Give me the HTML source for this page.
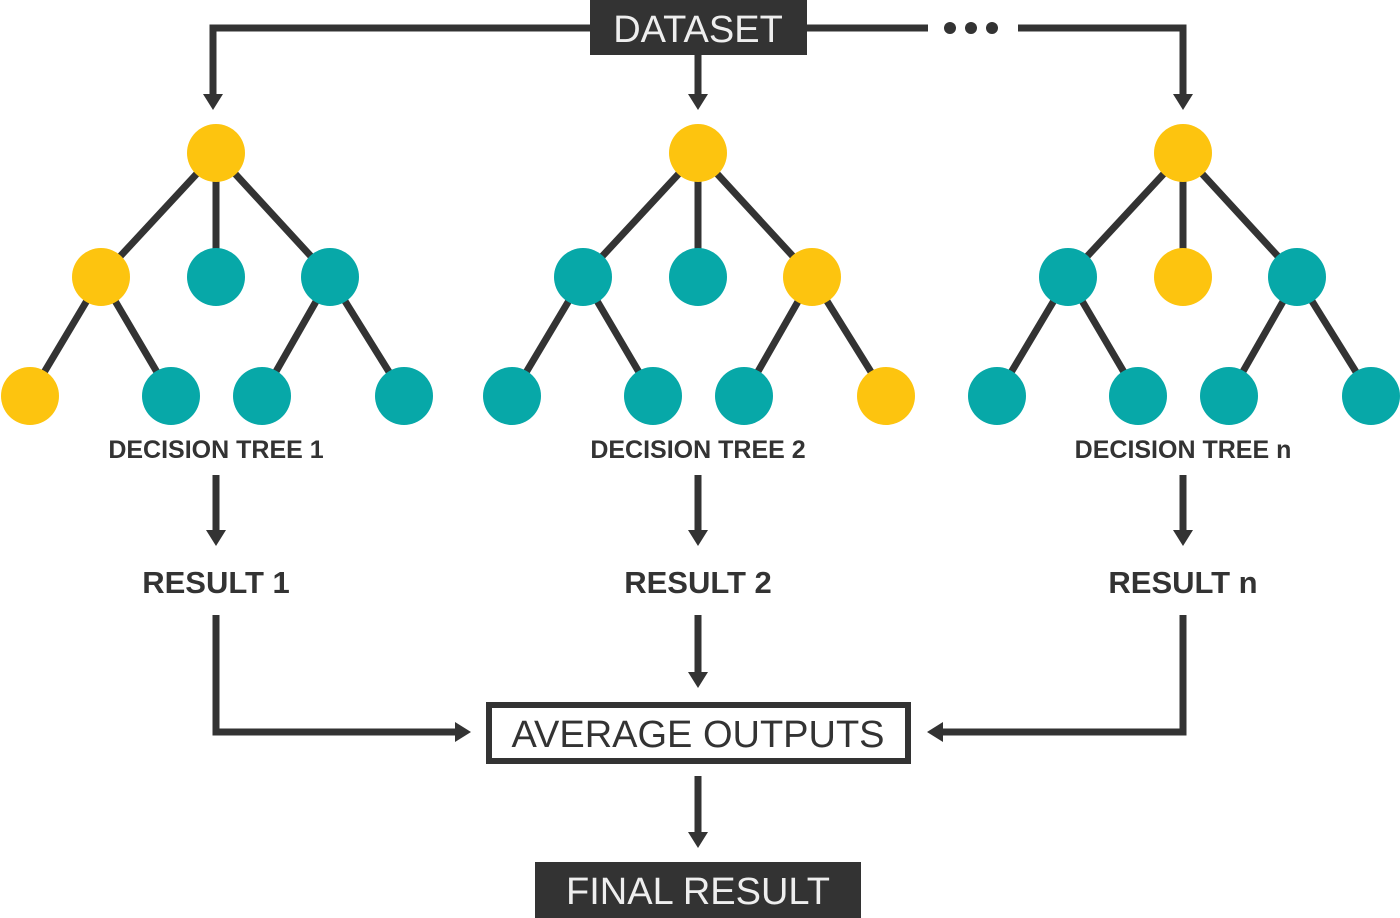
<!DOCTYPE html>
<html><head><style>body{margin:0;background:#fff}svg{display:block}text{font-family:"Liberation Sans",sans-serif;font-weight:bold;fill:#333}</style></head><body>
<svg width="1400" height="918" viewBox="0 0 1400 918" xmlns="http://www.w3.org/2000/svg">
<g stroke="#333" stroke-width="7" fill="none">
<polyline points="590,28 213,28 213,96"/>
<line x1="698" y1="55" x2="698" y2="96"/>
<polygon points="688,94 708,94 698,110" fill="#333" stroke="none"/>
<polygon points="203,94 223,94 213,110" fill="#333" stroke="none"/>
<line x1="807" y1="28" x2="928" y2="28"/>
<polyline points="1018,28 1183,28 1183,96"/>
<polygon points="1173,94 1193,94 1183,110" fill="#333" stroke="none"/>
<line x1="216" y1="475" x2="216" y2="532"/><polygon points="206,530 226,530 216,546" fill="#333" stroke="none"/>
<line x1="698" y1="475" x2="698" y2="532"/><polygon points="688,530 708,530 698,546" fill="#333" stroke="none"/>
<line x1="1183" y1="475" x2="1183" y2="532"/><polygon points="1173,530 1193,530 1183,546" fill="#333" stroke="none"/>
<polyline points="216,615 216,732 456,732"/><polygon points="455,722 455,742 471,732" fill="#333" stroke="none"/>
<line x1="698" y1="615" x2="698" y2="674"/><polygon points="688,672 708,672 698,688" fill="#333" stroke="none"/>
<polyline points="1183,615 1183,732 942,732"/><polygon points="943,722 943,742 927,732" fill="#333" stroke="none"/>
<line x1="698" y1="776" x2="698" y2="834"/><polygon points="688,832 708,832 698,848" fill="#333" stroke="none"/>
<rect x="489" y="705" width="419" height="56" stroke-width="6"/>
</g>
<g fill="#333"><circle cx="950" cy="28" r="6"/><circle cx="971" cy="28" r="6"/><circle cx="992" cy="28" r="6"/>
<rect x="590" y="0" width="217" height="55"/><rect x="535" y="862" width="326" height="56"/></g>
<text x="698" y="42" font-size="38" style="fill:#eee;font-weight:normal" text-anchor="middle">DATASET</text>
<text x="698" y="904" font-size="38" style="fill:#eee;font-weight:normal" text-anchor="middle">FINAL RESULT</text>
<text x="698" y="747" font-size="38" style="font-weight:normal" text-anchor="middle">AVERAGE OUTPUTS</text>
<g id="t1" stroke="#333" stroke-width="7">
<line x1="216" y1="153" x2="101" y2="277"/><line x1="216" y1="153" x2="216" y2="277"/><line x1="216" y1="153" x2="330" y2="277"/>
<line x1="101" y1="277" x2="30" y2="396"/><line x1="101" y1="277" x2="171" y2="396"/><line x1="330" y1="277" x2="262" y2="396"/><line x1="330" y1="277" x2="404" y2="396"/>
</g>
<use href="#t1" x="482"/><use href="#t1" x="967"/>
<g>
<circle cx="216" cy="153" r="29" fill="#FDC40F"/><circle cx="101" cy="277" r="29" fill="#FDC40F"/><circle cx="216" cy="277" r="29" fill="#07A8A8"/><circle cx="330" cy="277" r="29" fill="#07A8A8"/>
<circle cx="30" cy="396" r="29" fill="#FDC40F"/><circle cx="171" cy="396" r="29" fill="#07A8A8"/><circle cx="262" cy="396" r="29" fill="#07A8A8"/><circle cx="404" cy="396" r="29" fill="#07A8A8"/>
<circle cx="698" cy="153" r="29" fill="#FDC40F"/><circle cx="583" cy="277" r="29" fill="#07A8A8"/><circle cx="698" cy="277" r="29" fill="#07A8A8"/><circle cx="812" cy="277" r="29" fill="#FDC40F"/>
<circle cx="512" cy="396" r="29" fill="#07A8A8"/><circle cx="653" cy="396" r="29" fill="#07A8A8"/><circle cx="744" cy="396" r="29" fill="#07A8A8"/><circle cx="886" cy="396" r="29" fill="#FDC40F"/>
<circle cx="1183" cy="153" r="29" fill="#FDC40F"/><circle cx="1068" cy="277" r="29" fill="#07A8A8"/><circle cx="1183" cy="277" r="29" fill="#FDC40F"/><circle cx="1297" cy="277" r="29" fill="#07A8A8"/>
<circle cx="997" cy="396" r="29" fill="#07A8A8"/><circle cx="1138" cy="396" r="29" fill="#07A8A8"/><circle cx="1229" cy="396" r="29" fill="#07A8A8"/><circle cx="1371" cy="396" r="29" fill="#07A8A8"/>
</g>
<g font-size="25" text-anchor="middle">
<text x="216" y="458">DECISION TREE 1</text><text x="698" y="458">DECISION TREE 2</text><text x="1183" y="458">DECISION TREE n</text>
</g>
<g font-size="31" text-anchor="middle">
<text x="216" y="593">RESULT 1</text><text x="698" y="593">RESULT 2</text><text x="1183" y="593">RESULT n</text>
</g>
</svg>
</body></html>
